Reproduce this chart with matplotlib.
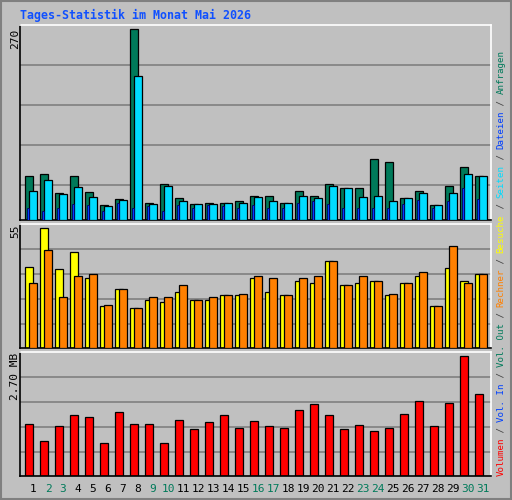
import matplotlib
matplotlib.use("Agg")
import matplotlib.pyplot as plt
import numpy as np

days = list(range(1, 32))
hits = [62,65,38,62,40,21,30,270,24,51,31,23,24,24,27,34,34,25,41,34,51,45,45,86,82,31,42,21,48,76,62]
files = [41,57,37,47,33,20,28,204,23,48,27,23,23,24,24,33,27,24,34,31,48,45,33,34,27,31,38,21,38,66,62]
pages = [18,13,18,23,21,13,24,18,20,13,21,18,21,20,18,21,18,18,24,27,23,18,18,17,18,23,28,18,27,45,30]
visits = [37.1,55,36.2,44,32,19.3,27,18.3,22,21,26,22,22,24.3,24.3,32,26,24.3,31,30,40,29,30,31,24.3,30,33,19.3,37,31,34]
sites = [30,45,23.4,33,34,20,27,18.3,23.4,23.4,29,22,23.4,24.3,25,33,32,24.3,32,33,40,29,33,31,25,30,35,19.3,47,30,34]
volume = [1.18,0.78,1.12,1.37,1.32,0.75,1.43,1.18,1.18,0.75,1.25,1.05,1.21,1.37,1.07,1.23,1.12,1.07,1.48,1.61,1.37,1.05,1.14,1.00,1.07,1.39,1.68,1.12,1.64,2.70,1.85]
weekend = {2,3,9,10,16,17,23,24,30,31}

W, H = 512, 500
BG = "#c0c0c0"
fig = plt.figure(figsize=(W/100, H/100), dpi=100, facecolor=BG)
MONO = "DejaVu Sans Mono"

def px_ax(x0, x1, y0, y1):
    return fig.add_axes([x0/W, 1-y1/H, (x1-x0)/W, (y1-y0)/H])

def style(ax, ymax, grids):
    ax.set_facecolor(BG)
    ax.set_xlim(0.153, 31.53)
    ax.set_ylim(0, ymax)
    for g in grids:
        ax.axhline(g, color="#808080", lw=1.2, zorder=0)
    ax.set_xticks([]); ax.set_yticks([])
    for s in ["left", "bottom"]:
        ax.spines[s].set_color("black")
    for s in ["top", "right"]:
        ax.spines[s].set_color("white")
    for s in ax.spines.values():
        s.set_linewidth(1.2)

d = np.array(days)
ek = dict(edgecolor="black", linewidth=0.9)
ax1 = px_ax(20.3, 491, 25.3, 220.3)
style(ax1, 275.6, [49.5, 106, 162.5, 219])
ax1.bar(d-0.265, hits, width=0.49, color="#007a5a", **ek, zorder=2)
ax1.bar(d, files, width=0.5, color="#00dcff", **ek, zorder=3)
ax1.bar(d-0.33, pages, width=0.16, color="#0040ff", edgecolor="#000060", linewidth=0.6, zorder=4)

ax2 = px_ax(20.3, 491, 224.3, 348.3)
style(ax2, 56.8, [11.0, 22.5, 33.9, 45.4])
ax2.bar(d-0.245, visits, width=0.53, color="#ffff00", **ek, zorder=2)
ax2.bar(d, sites, width=0.5, color="#ff8000", **ek, zorder=3)

ax3 = px_ax(20.3, 491, 352.3, 475.7)
style(ax3, 2.79, [0.528, 1.094, 1.659, 2.225])
ax3.bar(d-0.265, volume, width=0.49, color="#ff0000", **ek, zorder=2)

fig.text(20/W, 1-15/H, "Tages-Statistik im Monat Mai 2026", color="#1050ff",
         fontsize=8.4, family=MONO, fontweight="bold", va="center", ha="left")

fig.text(15/W, 1-29/H, "270", rotation=90, fontsize=8, family=MONO, va="top", ha="center")
fig.text(15/W, 1-225/H, "55", rotation=90, fontsize=8, family=MONO, va="top", ha="center")
fig.text(15/W, 1-353/H, "2.70 MB", rotation=90, fontsize=8, family=MONO, va="top", ha="center")

for day in days:
    x = 20.3 + (day-0.153)/(31.53-0.153)*(491-20.3)
    fig.text(x/W, 1-489/H, str(day), fontsize=8, family=MONO, ha="center", va="center",
             color="#007a5a" if day in weekend else "black")

pieces = [("Volumen", "#ff0000"), (" / ", "#404040"), ("Vol. In", "#0040ff"), (" / ", "#404040"),
          ("Vol. Out", "#007a5a"), (" / ", "#404040"), ("Rechner", "#ff8000"), (" / ", "#404040"),
          ("Besuche", "#ffff00"), (" / ", "#404040"), ("Seiten", "#00dcff"), (" / ", "#404040"),
          ("Dateien", "#0040ff"), (" / ", "#404040"), ("Anfragen", "#007a5a")]
cw = 5.45
y = 476.0
for txt, col in pieces:
    fig.text(501/W, 1-y/H, txt, rotation=90, fontsize=6.6, family=MONO, color=col,
             ha="center", va="bottom")
    y -= cw*len(txt)

fig.patches.append(plt.Rectangle((1/W, 1/H), 1-2/W, 1-2/H, transform=fig.transFigure,
                                 fill=False, edgecolor="#808080", lw=1.5))
fig.savefig("out.png", dpi=100, facecolor=BG)
